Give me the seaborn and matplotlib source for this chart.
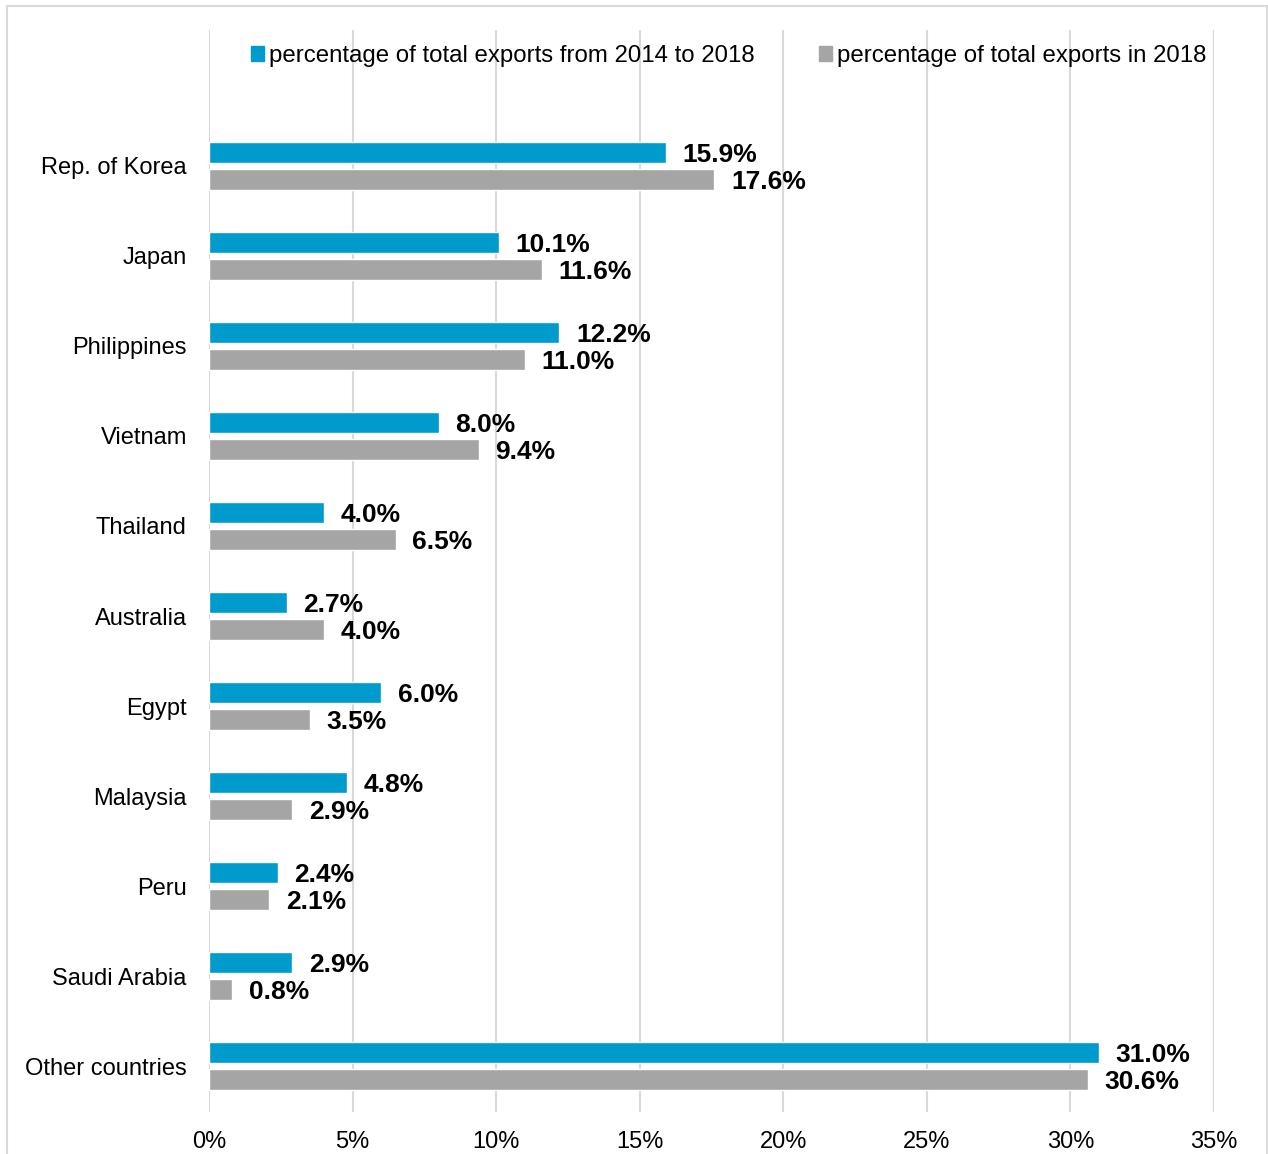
import pandas as pd
import matplotlib
matplotlib.use('Agg')
import matplotlib.pyplot as plt
import matplotlib.patches as mpatches
import seaborn as sns

countries = ['Rep. of Korea', 'Japan', 'Philippines', 'Vietnam', 'Thailand',
             'Australia', 'Egypt', 'Malaysia', 'Peru', 'Saudi Arabia',
             'Other countries']
share_2014_2018 = [15.9, 10.1, 12.2, 8.0, 4.0, 2.7, 6.0, 4.8, 2.4, 2.9, 31.0]
share_2018 = [17.6, 11.6, 11.0, 9.4, 6.5, 4.0, 3.5, 2.9, 2.1, 0.8, 30.6]
series = ['percentage of total exports from 2014 to 2018',
          'percentage of total exports in 2018']
colors = ['#009BCD', '#A5A5A5']
xticks = [0, 5, 10, 15, 20, 25, 30, 35]

df = pd.concat([
    pd.DataFrame({'country': countries, 'share': share_2014_2018, 'series': series[0]}),
    pd.DataFrame({'country': countries, 'share': share_2018, 'series': series[1]}),
])

sns.set_style('white')
plt.rcParams['font.family'] = ['Liberation Sans', 'DejaVu Sans']
plt.rcParams['text.color'] = 'black'
plt.rcParams['xtick.color'] = 'black'
plt.rcParams['ytick.color'] = 'black'

fig = plt.figure(figsize=(12.68, 11.54), dpi=100)
ax = fig.add_axes([209 / 1268, 42 / 1154, 1005 / 1268, 1082 / 1154])

sns.barplot(data=df, y='country', x='share', hue='series', hue_order=series,
            palette=colors, orient='h', width=0.6, gap=0.22, saturation=1,
            legend=False, ax=ax, zorder=3)

for container in ax.containers:
    labels = ax.bar_label(container, fmt='%.1f%%', padding=12, fontsize=19,
                          fontweight='bold', color='black')
    for t in labels:
        t.set_va('center_baseline')

ax.set_xlim(0, 35)
ax.set_ylim(10.51, -1.51)
ax.set_xticks(xticks)
ax.set_xticklabels(['%d%%' % t for t in xticks])
ax.set_xlabel('')
ax.set_ylabel('')
ax.tick_params(axis='x', length=0, pad=14, labelsize=17, labelcolor='black')
ax.tick_params(axis='y', length=0, pad=16, labelsize=17, labelcolor='black')
ax.grid(axis='x', color='#D9D9D9', linewidth=1.5, zorder=0)
ax.grid(axis='y', visible=False)
for s in ax.spines.values():
    s.set_visible(False)

handles = [mpatches.Patch(color=c, label=l) for c, l in zip(colors, series)]
ax.legend(handles=handles, loc='center', bbox_to_anchor=(0.517, 0.976),
          ncol=2, frameon=False, fontsize=17.3, handlelength=0.55,
          handleheight=0.55, handletextpad=0.2, columnspacing=2.7)

border = mpatches.Rectangle((7 / 1268, -0.01), 1260 / 1268, 1.01 - 6 / 1154,
                            transform=fig.transFigure, fill=False,
                            edgecolor='#D9D9D9', linewidth=1.5)
fig.patches.append(border)

fig.savefig('out.png', dpi=100)
